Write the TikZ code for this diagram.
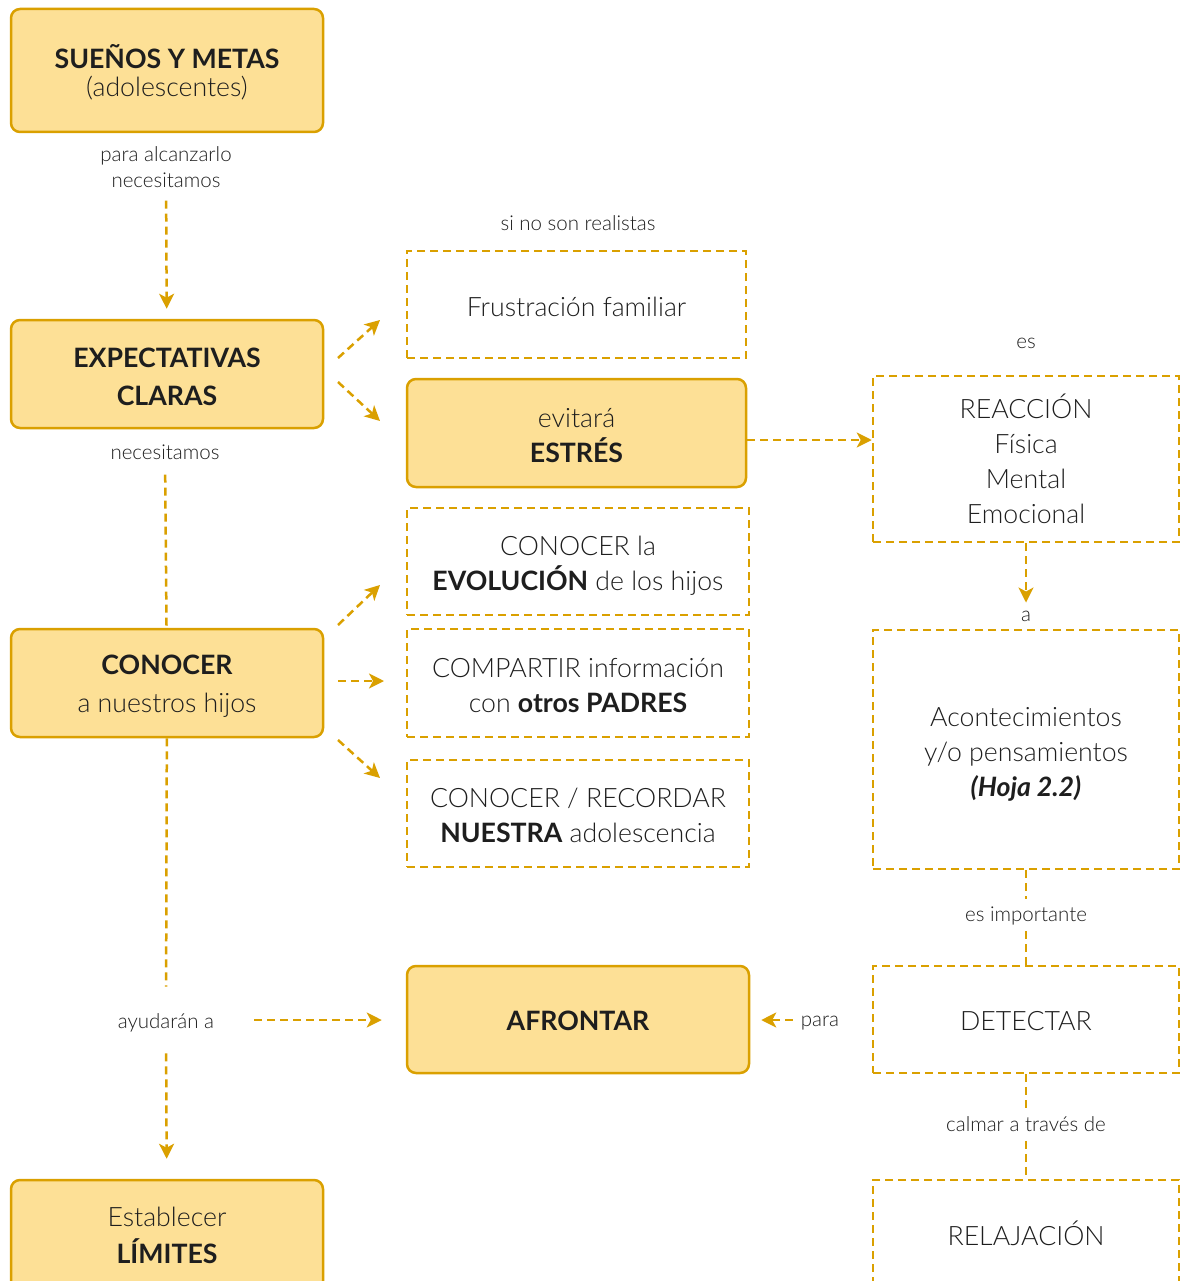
\documentclass[tikz,border=0pt]{standalone}
\usepackage{fontspec}
\setmainfont{Lato}
\newfontfamily\lightfont{Lato Light}
\usetikzlibrary{arrows.meta}
\definecolor{goldline}{HTML}{DAA000}
\definecolor{goldfill}{HTML}{FDE096}
\definecolor{ink}{HTML}{1E1E1E}
\newcommand\hb{\rmfamily\bfseries}
\begin{document}
\begin{tikzpicture}[x=1pt,y=-1pt,
  every node/.style={text=ink},
  boxtext/.style={align=center, inner sep=0pt, font=\lightfont\fontsize{26.7}{35}\selectfont},
  frame/.style={draw=goldline, line width=2.5pt, inner sep=0pt},
  solidbox/.style={frame, fill=goldfill, rounded corners=9pt},
  dashbox/.style={frame, dash pattern=on 8pt off 5pt},
  % box text, set as a centred label lowered by #1
  txt/.style 2 args={label={[boxtext, yshift=-#1]center:{#2}}},
  lbl/.style={align=center, inner sep=0pt, font=\lightfont\fontsize{20.5}{26}\selectfont},
  conn/.style={draw=goldline, line width=2.5pt, dash pattern=on 8pt off 5pt},
  arr/.style={conn, -{Stealth[length=15pt,width=15pt,inset=4pt]}},
]
\useasboundingbox (0,0) rectangle (1180,1281);

% left column
\node[solidbox, minimum width=312pt, minimum height=123pt,
  txt={2pt}{{\hb SUEÑOS Y METAS}\\[-7pt](adolescentes)}] (suenos) at (167,70.5) {};
\node[solidbox, minimum width=312pt, minimum height=108pt,
  txt={3pt}{{\hb EXPECTATIVAS}\\[3pt]{\hb CLARAS}}] (expect) at (167,374) {};
\node[solidbox, minimum width=312pt, minimum height=108pt,
  txt={3.5pt}{{\hb CONOCER}\\[3pt]a nuestros hijos}] (conocer) at (167,683) {};
\node[solidbox, minimum width=312pt, minimum height=110pt,
  txt={0pt}{Establecer\\[2pt]{\hb LÍMITES}}] (limites) at (167,1235) {};

% middle column
\node[dashbox, minimum width=339pt, minimum height=107pt,
  txt={2pt}{Frustración familiar}] (frust) at (576.5,304.5) {};
\node[solidbox, minimum width=339pt, minimum height=108pt,
  txt={3pt}{evitará\\{\hb ESTRÉS}}] (estres) at (576.5,433) {};
\node[dashbox, minimum width=342pt, minimum height=107pt,
  txt={4pt}{CONOCER la\\{\hb EVOLUCIÓN} de los hijos}] (evol) at (578,561.5) {};
\node[dashbox, minimum width=342pt, minimum height=108pt,
  txt={3pt}{COMPARTIR información\\con {\hb otros PADRES}}] (compartir) at (578,683) {};
\node[dashbox, minimum width=342pt, minimum height=107pt,
  txt={2pt}{CONOCER / RECORDAR\\{\hb NUESTRA} adolescencia}] (recordar) at (578,813.5) {};
\node[solidbox, minimum width=342pt, minimum height=107pt,
  txt={1pt}{{\hb AFRONTAR}}] (afrontar) at (578,1019.5) {};

% right column
\node[dashbox, minimum width=306pt, minimum height=166pt,
  txt={0pt}{REACCIÓN\\Física\\Mental\\Emocional}] (reaccion) at (1026,459) {};
\node[dashbox, minimum width=306pt, minimum height=239pt,
  txt={5pt}{Acontecimientos\\y/o pensamientos\\{\hb\itshape (Hoja 2.2)}}] (aconte) at (1026,749.5) {};
\node[dashbox, minimum width=306pt, minimum height=107pt,
  txt={2pt}{DETECTAR}] (detectar) at (1026,1019.5) {};
\node[dashbox, minimum width=306pt, minimum height=110pt,
  txt={-2pt}{RELAJACIÓN}] (relaj) at (1026,1235) {};

% connector labels
\node[lbl] (l1) at (166,167) {para alcanzarlo\\necesitamos};
\node[lbl] (l2) at (165,452) {necesitamos};
\node[lbl] (l3) at (166,1023) {ayudarán a};
\node[lbl] (l4) at (578,223) {si no son realistas};
\node[lbl] (l5) at (1026,343) {es};
\node[lbl] (l6) at (1026,616) {a};
\node[lbl] (l7) at (1026,916) {es importante};
\node[lbl] (l8) at (1026,1124) {calmar a través de};
\node[lbl] (l9) at (820,1023) {para};

% free ends of the fan-out arrows
\coordinate (e0) at (338,358); \coordinate (e1) at (380,320);
\coordinate (f0) at (338,382); \coordinate (f1) at (380,421);
\coordinate (g0) at (338,625); \coordinate (g1) at (380,585);
\coordinate (h0) at (338,681); \coordinate (h1) at (384,681);
\coordinate (k0) at (338,740); \coordinate (k1) at (380,778);

% connectors
\draw[arr, shorten <=13pt, shorten >=10pt] (l1) -- (expect);
\draw[conn, shorten <=15pt] (l2) -- (conocer);
\draw[conn, shorten >=27pt] (conocer) -- (l3);
\draw[arr, shorten <=21pt, shorten >=20pt] (l3) -- (limites);
\draw[arr, shorten <=40pt, shorten >=24pt] ([yshift=3pt]l3.east) -- ([yshift=3pt]l3.east -| afrontar.west);
\draw[arr] (e0) -- (e1);
\draw[arr] (f0) -- (f1);
\draw[arr] (g0) -- (g1);
\draw[arr] (h0) -- (h1);
\draw[arr] (k0) -- (k1);
\draw[arr] ([yshift=-7pt]estres.east) -- ([yshift=-7pt]estres.east -| reaccion.west);
\draw[arr, shorten >=8pt] (reaccion) -- (l6);
\draw[conn, shorten >=8pt] (aconte) -- (l7);
\draw[conn, shorten <=6pt] (l7) -- (detectar);
\draw[conn, shorten >=7pt] (detectar) -- (l8);
\draw[conn, shorten <=9pt] (l8) -- (relaj);
\draw[arr, shorten <=8pt, shorten >=11pt] ([yshift=3pt]l9.west) -- ([yshift=3pt]l9.west -| afrontar.east);
\end{tikzpicture}
\end{document}
